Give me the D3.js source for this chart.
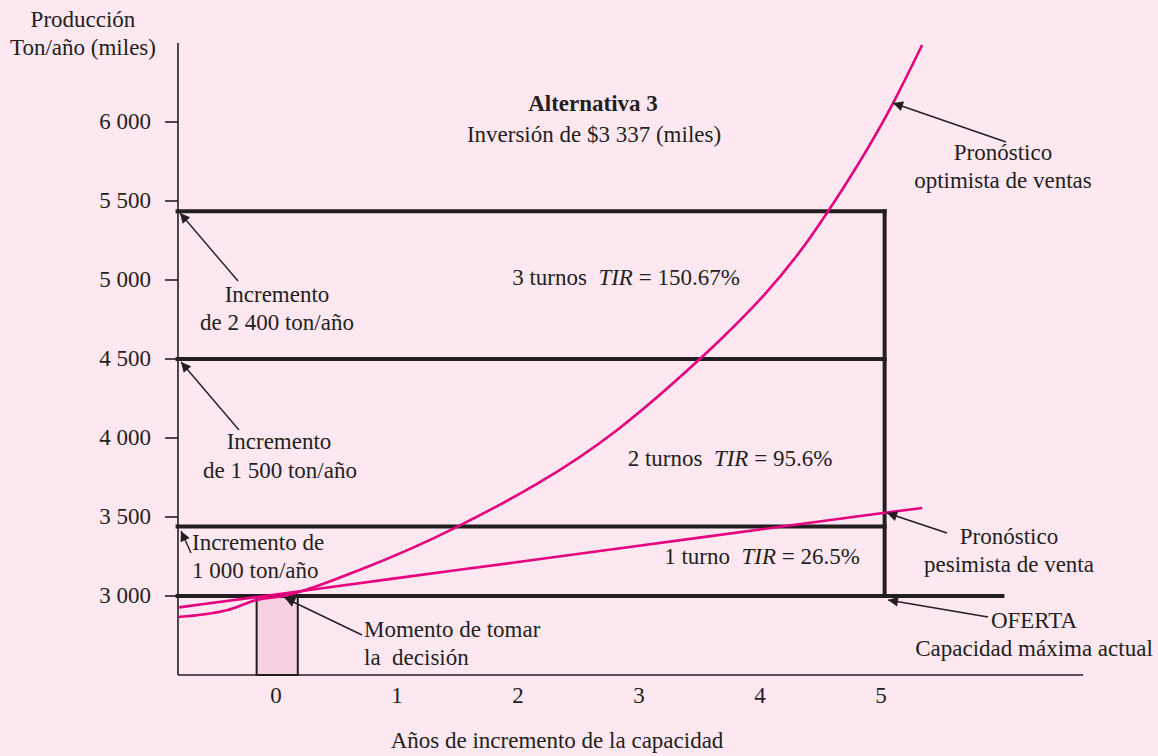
<!DOCTYPE html>
<html>
<head>
<meta charset="utf-8">
<script src="https://cdn.jsdelivr.net/npm/d3@7"></script>
<style>
  html, body { margin: 0; padding: 0; background: #fde7f1; }
  svg { display: block; }
  text { font-family: "Liberation Serif", "DejaVu Serif", serif; fill: #231f20; }
</style>
</head>
<body>
<svg id="chart" width="1158" height="756"></svg>
<script>
// ---------------- DATA ----------------
const yTicks = [3000, 3500, 4000, 4500, 5000, 5500, 6000];
const yTickLabels = ["3 000", "3 500", "4 000", "4 500", "5 000", "5 500", "6 000"];
const xTicks = [0, 1, 2, 3, 4, 5];
const xTickLabels = ["0", "1", "2", "3", "4", "5"];

// Optimistic sales forecast (year, thousand ton/year)
const optimistaYears  = [-0.81, -0.40, -0.16, 0.06, 0.69, 1.50, 2.82, 3.50, 3.67, 4.40, 4.56, 5.10, 5.34];
const optimistaValues = [2867, 2911, 2975, 3000, 3165, 3439, 4051, 4498, 4620, 5253, 5432, 6120, 6487];

// Pessimistic sales forecast
const pesimistaYears  = [-0.80, 0, 1, 2, 3, 4, 5, 5.34];
const pesimistaValues = [2928, 3010, 3113, 3215, 3318, 3421, 3524, 3557];

// Capacity levels (offer and increments)
const capacidadOferta = 3000;
const capacidadNiveles = [3440, 4500, 5435];
const capacidadInicio = -0.83;
const capacidadFin = 5.03;
const ofertaFin = 6.02;

// Decision moment bar
const decisionInicio = -0.16;
const decisionFin = 0.18;

// Axis extents
const xDomainMin = -0.81, xDomainMax = 6.67;
const yDomainMin = 2500, yDomainMax = 6500;

// ---------------- CHART ----------------
const FS = 23;
const svg = d3.select("#chart");
const pink = "#e6007e";
const ink = "#231f20";

svg.append("rect").attr("width", 1158).attr("height", 756).attr("fill", "#fde7f1");

const x = d3.scaleLinear().domain([0, 5]).range([276, 881]);
const y = d3.scaleLinear().domain([yDomainMin, yDomainMax]).range([675, 43]);

const defs = svg.append("defs");
defs.append("marker")
  .attr("id", "arrow")
  .attr("viewBox", "0 0 10 10")
  .attr("refX", 10).attr("refY", 5)
  .attr("markerWidth", 12).attr("markerHeight", 10)
  .attr("markerUnits", "userSpaceOnUse")
  .attr("orient", "auto")
  .append("path").attr("d", "M0,0 L10,5 L0,10 Z").attr("fill", ink);

// Decision bar
svg.append("rect")
  .attr("x", x(decisionInicio))
  .attr("y", y(capacidadOferta))
  .attr("width", x(decisionFin) - x(decisionInicio))
  .attr("height", y(yDomainMin) - y(capacidadOferta))
  .attr("fill", "#f8d0e2")
  .attr("stroke", ink).attr("stroke-width", 2);

// Axes (lines)
svg.append("line")
  .attr("x1", x(xDomainMin)).attr("x2", x(xDomainMin))
  .attr("y1", y(yDomainMax)).attr("y2", y(yDomainMin))
  .attr("stroke", ink).attr("stroke-width", 1.6);
svg.append("line")
  .attr("x1", x(xDomainMin)).attr("x2", x(xDomainMax))
  .attr("y1", y(yDomainMin)).attr("y2", y(yDomainMin))
  .attr("stroke", ink).attr("stroke-width", 1.6);

// Y ticks
const yAxisG = svg.append("g");
yTicks.forEach((t, i) => {
  yAxisG.append("line")
    .attr("x1", x(xDomainMin) - 13).attr("x2", x(xDomainMin))
    .attr("y1", y(t)).attr("y2", y(t))
    .attr("stroke", ink).attr("stroke-width", 1.6);
  yAxisG.append("text")
    .attr("x", 151).attr("y", y(t) + 7)
    .attr("text-anchor", "end")
    .attr("font-size", FS)
    .text(yTickLabels[i]);
});

// X tick labels
xTicks.forEach((t, i) => {
  svg.append("text")
    .attr("x", x(t)).attr("y", 703)
    .attr("text-anchor", "middle")
    .attr("font-size", FS)
    .text(xTickLabels[i]);
});

// Capacity lines
svg.append("line")
  .attr("x1", x(capacidadInicio)).attr("x2", x(ofertaFin))
  .attr("y1", y(capacidadOferta)).attr("y2", y(capacidadOferta))
  .attr("stroke", ink).attr("stroke-width", 4);
capacidadNiveles.forEach(v => {
  svg.append("line")
    .attr("x1", x(capacidadInicio)).attr("x2", x(capacidadFin) + 2)
    .attr("y1", y(v)).attr("y2", y(v))
    .attr("stroke", ink).attr("stroke-width", 4);
});
svg.append("line")
  .attr("x1", x(capacidadFin)).attr("x2", x(capacidadFin))
  .attr("y1", y(d3.max(capacidadNiveles)) - 2).attr("y2", y(capacidadOferta) + 2)
  .attr("stroke", ink).attr("stroke-width", 4);

// Forecast curves
const line = d3.line().x(d => x(d[0])).y(d => y(d[1])).curve(d3.curveMonotoneX);
svg.append("path")
  .datum(pesimistaYears.map((yr, i) => [yr, pesimistaValues[i]]))
  .attr("d", line).attr("fill", "none").attr("stroke", pink).attr("stroke-width", 2.6);
svg.append("path")
  .datum(optimistaYears.map((yr, i) => [yr, optimistaValues[i]]))
  .attr("d", line).attr("fill", "none").attr("stroke", pink).attr("stroke-width", 2.6);

// Arrows (annotations)
const arrows = [
  [238, 281, 180, 213],
  [239, 430, 181, 362],
  [191, 553, 181, 531],
  [362, 635, 285, 598],
  [1006, 142, 893, 103],
  [947, 533, 887, 513],
  [988, 617, 888, 600]
];
arrows.forEach(a => {
  svg.append("line")
    .attr("x1", a[0]).attr("y1", a[1]).attr("x2", a[2]).attr("y2", a[3])
    .attr("stroke", ink).attr("stroke-width", 1.4)
    .attr("marker-end", "url(#arrow)");
});

// Text helper
function txt(xp, yp, s, anchor, opts) {
  const t = svg.append("text")
    .attr("x", xp).attr("y", yp)
    .attr("text-anchor", anchor || "middle")
    .attr("font-size", (opts && opts.size) || FS);
  if (opts && opts.bold) t.attr("font-weight", "bold");
  t.text(s);
  return t;
}

// Axis titles
txt(83, 27, "Producción");
txt(83, 55, "Ton/año (miles)");
txt(557, 748, "Años de incremento de la capacidad");

// Title
txt(593, 111, "Alternativa 3", "middle", { bold: true });
txt(594, 142, "Inversión de $3 337 (miles)");

// Annotations
txt(277, 302, "Incremento");
txt(277, 330, "de 2 400 ton/año");
txt(279, 449, "Incremento");
txt(280, 478, "de 1 500 ton/año");
txt(192, 550, "Incremento de", "start");
txt(192, 578, "1 000 ton/año", "start");
txt(364, 637, "Momento de tomar", "start");
txt(364, 665, "la\u00a0 decisión", "start");
txt(1003, 160, "Pronóstico");
txt(1003, 188, "optimista de ventas");
txt(1009, 544, "Pronóstico");
txt(1009, 572, "pesimista de venta");
txt(1034, 628, "OFERTA");
txt(1034, 656, "Capacidad máxima actual");

// TIR labels (with italic TIR)
function tirLabel(cx, yp, pre, post) {
  const t = svg.append("text")
    .attr("x", cx).attr("y", yp)
    .attr("text-anchor", "middle")
    .attr("font-size", FS);
  t.append("tspan").text(pre + "\u00a0\u00a0");
  t.append("tspan").attr("font-style", "italic").text("TIR");
  t.append("tspan").text("\u00a0=\u00a0" + post);
}
tirLabel(626, 285, "3 turnos", "150.67%");
tirLabel(730, 466, "2 turnos", "95.6%");
tirLabel(762, 564, "1 turno", "26.5%");
</script>
</body>
</html>
